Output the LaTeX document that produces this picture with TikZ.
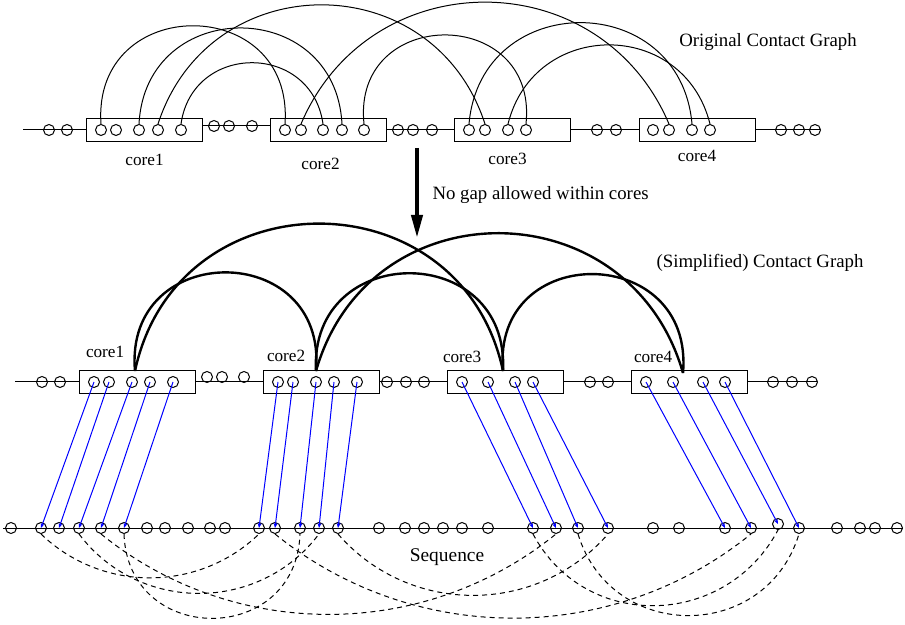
\documentclass[tikz,border=0pt]{standalone}
\usepackage{fontspec}
\setmainfont{Liberation Serif}
\usetikzlibrary{positioning, arrows.meta}

\begin{document}
\begin{tikzpicture}[x=0.5pt, y=-0.5pt, line width=0.5pt]
	\tikzstyle{bead}=[circle, draw, minimum size=5.5pt, inner sep=0pt]
	\tikzstyle{corebox}=[rectangle, draw, minimum width=58pt, minimum height=11.5pt, inner sep=0pt]
	\tikzstyle{corelabel}=[font=\fontsize{8.6}{10}\selectfont, inner sep=0pt]
	\tikzstyle{caption}=[font=\fontsize{9.4}{11}\selectfont, inner sep=0pt]
	\tikzstyle{bond}=[line width=1.2pt]
	\tikzstyle{seqcontact}=[dash pattern=on 2.5pt off 2pt]
	\tikzstyle{map}=[blue, -{Stealth[length=2.5pt, width=2pt]}]

	\useasboundingbox (0,0) rectangle (905,625);

	\node[corebox] (top1) at (144.5,130) {};
	\node[corebox] (top2) at (328.5,130) {};
	\node[corebox] (top3) at (512.5,130) {};
	\node[corebox] (top4) at (697,130) {};
	\coordinate (tl) at (23,130);
	\coordinate (tr) at (820,130);
	\draw (tl) -- (top1) (top2) -- (top3) -- (top4) -- (tr);
	\draw ([yshift=2pt]top1.east) -- ([yshift=2pt]top2.west);

	\foreach \x in {49,67,398,413,432,597,616,781,799,815} \node[bead] at (\x,130) {};
	\foreach \x in {214,229,252} \node[bead] at (\x,126) {};
	\foreach \x [count=\i] in {101,116,139,158,181} \node[bead] (t1-\i) at (\x,130) {};
	\foreach \x [count=\i] in {285,301,323,342,364} \node[bead] (t2-\i) at (\x,130) {};
	\foreach \x [count=\i] in {469,485,508,526} \node[bead] (t3-\i) at (\x,130) {};
	\foreach \x [count=\i] in {653,669,692,710} \node[bead] (t4-\i) at (\x,130) {};

	\node[corelabel, below=6pt of top1] (tc1) {core1};
	\node[corelabel, below=8pt of top2, xshift=-4pt] (tc2) {core2};
	\node[corelabel, below=5.5pt of top3, xshift=-2.5pt] (tc3) {core3};
	\node[corelabel, below=4pt of top4] (tc4) {core4};
	\node[caption] (orig) at (768,42) {Original Contact Graph};

	\draw (t1-1.north) to[out=94, in=86, looseness=1.83] (t2-1.north);
	\draw (t1-3.north) to[out=87, in=93, looseness=1.62] (t2-4.north);
	\draw (t1-4.north) to[out=72, in=108, looseness=1.31] (t3-2.north);
	\draw (t1-5.north) to[out=82, in=98, looseness=1.49] (t2-3.north);
	\draw (t2-2.north) to[out=67, in=113, looseness=1.23] (t4-2.north);
	\draw (t2-5.north) to[out=96, in=84, looseness=1.89] (t3-4.north);
	\draw (t3-1.north) to[out=85, in=95, looseness=1.56] (t4-3.north);
	\draw (t3-3.north) to[out=76, in=104, looseness=1.38] (t4-4.north);

	\coordinate (ntop) at (417,148);
	\coordinate (nbot) at (417,238);
	\draw[line width=2pt, -{Triangle[length=11.5pt, width=5.5pt]}] (ntop) -- (nbot);
	\node[caption, anchor=west] (nogap) at (432,195) {No gap allowed within cores};

	\node[corebox] (mid1) at (137,382) {};
	\node[corebox] (mid2) at (321,382) {};
	\node[corebox] (mid3) at (505,382) {};
	\node[corebox] (mid4) at (689,382) {};
	\coordinate (ml) at (15,382);
	\coordinate (mr) at (817,382);
	\draw (ml) -- (mid1) -- (mid2) -- (mid3) -- (mid4) -- (mr);

	\foreach \x in {42,60,387,406,424,590,608,773,792,812} \node[bead] at (\x,382) {};
	\foreach \x in {207,222,244} \node[bead] at (\x,377) {};
	\foreach \x [count=\i] in {94,109,132,150,173} \node[bead] (m1-\i) at (\x,382) {};
	\foreach \x [count=\i] in {278,293,316,334,357} \node[bead] (m2-\i) at (\x,382) {};
	\foreach \x [count=\i] in {462,488,515,533} \node[bead] (m3-\i) at (\x,382) {};
	\foreach \x [count=\i] in {646,673,703,725} \node[bead] (m4-\i) at (\x,382) {};

	\node[corelabel, above right=6pt and 3.5pt of mid1.north west] (mc1) {core1};
	\node[corelabel, above right=4pt and 2pt of mid2.north west] (mc2) {core2};
	\node[corelabel, above right=3.5pt and -2pt of mid3.north west] (mc3) {core3};
	\node[corelabel, above right=3.5pt and 1.5pt of mid4.north west] (mc4) {core4};
	\node[caption] (simp) at (760,263) {(Simplified) Contact Graph};

	\coordinate (h1) at (135,371);
	\coordinate (h2) at (316,371);
	\coordinate (h3) at (503,371);
	\coordinate (h4) at (683,373);
	\draw[bond] (h1) to[out=95, in=85, looseness=1.87] (h2);
	\draw[bond] (h1) to[out=78, in=102, looseness=1.40] (h3);
	\draw[bond] (h2) to[out=93, in=87, looseness=1.79] (h3);
	\draw[bond] (h2) to[out=74, in=106, looseness=1.34] (h4);
	\draw[bond] (h3) to[out=95, in=85, looseness=1.86] (h4);

	\coordinate (sl) at (3,528);
	\coordinate (sr) at (903,528);
	\draw (sl) -- (sr);

	\foreach \x in {11,147,165,188,210,225,379,405,424,443,462,488,653,679,837,860,875,897} \node[bead] at (\x,528) {};
	\foreach \x [count=\i] in {41,59,79,101,124} \node[bead] (s1-\i) at (\x,528) {};
	\foreach \x [count=\i] in {259,275,300,319,338} \node[bead] (s2-\i) at (\x,528) {};
	\foreach \x [count=\i] in {533,556,578,608} \node[bead] (s3-\i) at (\x,528) {};
	\foreach \x/\y [count=\i] in {725/528,751/528,778/524,799/528} \node[bead] (s4-\i) at (\x,\y) {};
	\node[caption, font=\fontsize{9.7}{11}\selectfont] (seq) at (447,557) {Sequence};

	\foreach \i in {1,...,5} \draw[map] (m1-\i.center) -- (s1-\i.center);
	\foreach \i in {1,...,5} \draw[map] (m2-\i.center) -- (s2-\i.center);
	\foreach \i in {1,...,4} \draw[map] (m3-\i.center) -- (s3-\i.center);
	\foreach \i in {1,...,4} \draw[map] (m4-\i.center) -- (s4-\i.center);

	\draw[seqcontact] (s1-1.south) to[out=-44, in=-136, looseness=0.99] (s2-1.south);
	\draw[seqcontact] (s1-3.south) to[out=-53, in=-127, looseness=1.06] (s2-4.south);
	\draw[seqcontact] (s1-4.south) to[out=-39, in=-141, looseness=0.96] (s3-2.south);
	\draw[seqcontact] (s1-5.south) to[out=-88, in=-92, looseness=1.64] (s2-3.south);
	\draw[seqcontact] (s2-2.south) to[out=-39, in=-141, looseness=0.96] (s4-2.south);
	\draw[seqcontact] (s2-5.south) to[out=-49, in=-131, looseness=1.03] (s3-4.south);
	\draw[seqcontact] (s3-1.south) to[out=-62, in=-118, looseness=1.16] (s4-3.south);
	\draw[seqcontact] (s3-3.south) to[out=-73, in=-107, looseness=1.32] (s4-4.south);
\end{tikzpicture}
\end{document}
